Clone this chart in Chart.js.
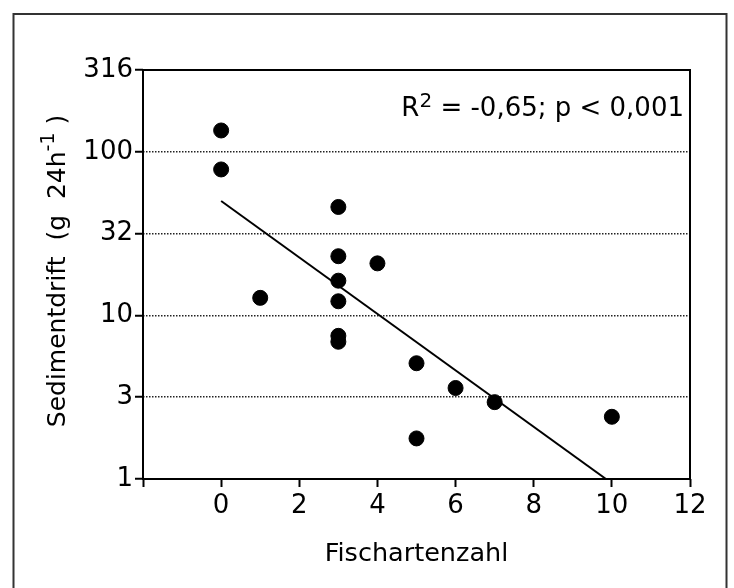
<!DOCTYPE html>
<html>
<head>
<meta charset="utf-8">
<script src="https://cdn.jsdelivr.net/npm/chart.js@4/dist/chart.umd.min.js"></script>
<style>
  html, body { margin: 0; padding: 0; background: #fff; }
  #wrap { width: 734px; height: 588px; position: relative; }
</style>
</head>
<body>
<div id="wrap"><canvas id="myChart" width="734" height="588"></canvas></div>
<script>
// species count vs sediment drift
var fishSpecies = [0, 0, 1, 3, 3, 3, 3, 3, 3, 4, 5, 5, 6, 7, 10];
var sedimentDrift = [135, 78, 12.8, 46, 23, 16.3, 12.2, 7.5, 6.9, 20.8, 5.1, 1.77, 3.6, 2.95, 2.4];

// regression line end points
var lineX = [0, 9.85];
var lineY = [50, 1];

var yTickValues = [1, 3.162, 10, 31.62, 100, 316.2];
var yTickLabels = ["1", "3", "10", "32", "100", "316"];
var xTickMin = -2, xTickMax = 12, xTickStep = 2;

var FONT = "'DejaVu Sans', sans-serif";

function drawRich(ctx, parts, x, y, align) {
  var total = 0;
  parts.forEach(function (p) {
    ctx.font = p.size + "px " + FONT;
    p.w = ctx.measureText(p.text).width;
    total += p.w;
  });
  var cx = align === "right" ? x - total : align === "center" ? x - total / 2 : x;
  parts.forEach(function (p) {
    ctx.font = p.size + "px " + FONT;
    ctx.fillText(p.text, cx, y + (p.dy || 0));
    cx += p.w;
  });
}

var extras = {
  id: "extras",
  beforeDraw: function (chart) {
    var ctx = chart.ctx;
    ctx.save();
    ctx.fillStyle = "#fff";
    ctx.fillRect(0, 0, chart.width, chart.height);
    ctx.strokeStyle = "#333";
    ctx.lineWidth = 2;
    ctx.strokeRect(13.5, 14, 713, 700);
    ctx.restore();
  },
  afterDraw: function (chart) {
    var ctx = chart.ctx;
    var a = chart.chartArea;
    ctx.save();
    ctx.strokeStyle = "#000";
    ctx.lineWidth = 2;
    ctx.strokeRect(a.left, a.top, a.right - a.left, a.bottom - a.top);

    ctx.fillStyle = "#000";
    ctx.textBaseline = "alphabetic";
    drawRich(ctx, [
      { text: "R", size: 26 },
      { text: "2", size: 20, dy: -9 },
      { text: " = -0,65; p < 0,001", size: 26 }
    ], a.right - 6, 116, "right");

    ctx.translate(65, 271);
    ctx.rotate(-Math.PI / 2);
    drawRich(ctx, [
      { text: "Sedimentdrift  (g  24h", size: 25 },
      { text: "-1", size: 19, dy: -11 },
      { text: " )", size: 25 }
    ], 0, 0, "center");
    ctx.restore();
  }
};

var points = fishSpecies.map(function (x, i) { return { x: x, y: sedimentDrift[i] }; });
var regLine = lineX.map(function (x, i) { return { x: x, y: lineY[i] }; });

var ctx = document.getElementById("myChart").getContext("2d");
var chart = new Chart(ctx, {
  type: "scatter",
  data: {
    datasets: [
      {
        label: "Sedimentdrift",
        data: points,
        backgroundColor: "#000",
        borderColor: "#000",
        pointRadius: 7.5,
        pointHoverRadius: 7.5
      },
      {
        type: "line",
        label: "Regression",
        data: regLine,
        borderColor: "#000",
        borderWidth: 2,
        pointRadius: 0,
        fill: false
      }
    ]
  },
  options: {
    responsive: false,
    animation: false,
    events: [],
    layout: { padding: { left: 0, top: 70, right: 44, bottom: 0 } },
    plugins: { legend: { display: false }, tooltip: { enabled: false } },
    scales: {
      x: {
        type: "linear",
        min: xTickMin,
        max: xTickMax,
        ticks: {
          stepSize: xTickStep,
          color: "#000",
          padding: 4,
          font: { family: FONT, size: 26 },
          callback: function (v) { return v < 0 ? "" : v; }
        },
        grid: { drawOnChartArea: false, drawTicks: true, tickLength: 8, tickColor: "#000", tickWidth: 2 },
        border: { display: false },
        title: {
          display: true,
          text: "Fischartenzahl",
          color: "#000",
          font: { family: FONT, size: 25.5 },
          padding: { top: 0, bottom: 18 }
        },
        afterFit: function (s) { s.height = 109; }
      },
      y: {
        type: "logarithmic",
        min: yTickValues[0],
        max: yTickValues[yTickValues.length - 1],
        afterBuildTicks: function (s) {
          s.ticks = yTickValues.map(function (v) { return { value: v }; });
        },
        ticks: {
          color: "#000",
          padding: 2,
          font: { family: FONT, size: 26 },
          callback: function (v, i) { return yTickLabels[i]; }
        },
        grid: {
          color: function (c) {
            return c.index === 0 || c.index === yTickValues.length - 1 ? "rgba(0,0,0,0)" : "#222";
          },
          lineWidth: 1.5,
          tickLength: 8,
          tickColor: "#000",
          tickWidth: 2
        },
        border: { display: false, dash: [1.5, 1.5] },
        afterFit: function (s) { s.width = 143; }
      }
    }
  },
  plugins: [extras]
});
</script>
</body>
</html>
